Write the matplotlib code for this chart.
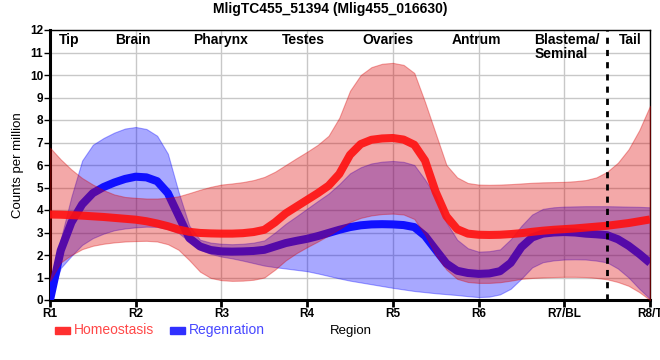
import matplotlib
matplotlib.use("Agg")
import matplotlib.pyplot as plt
from matplotlib.patches import Rectangle

plt.rcParams['font.family'] = ['Liberation Sans', 'DejaVu Sans']

# region positions, values read every eighth of a region
x_pos = [1, 1.125, 1.25, 1.375, 1.5, 1.625, 1.75, 1.875,
         2, 2.125, 2.25, 2.375, 2.5, 2.625, 2.75, 2.875,
         3, 3.125, 3.25, 3.375, 3.5, 3.625, 3.75, 3.875,
         4, 4.125, 4.25, 4.375, 4.5, 4.625, 4.75, 4.875,
         5, 5.125, 5.25, 5.375, 5.5, 5.625, 5.75, 5.875,
         6, 6.125, 6.25, 6.375, 6.5, 6.625, 6.75, 6.875,
         7, 7.125, 7.25, 7.375, 7.5, 7.625, 7.75, 7.875, 8]
tick_labels = ['R1', 'R2', 'R3', 'R4', 'R5', 'R6', 'R7/BL', 'R8/T']

homeo_mean = [3.80, 3.79, 3.77, 3.75, 3.72, 3.69, 3.65, 3.61,
              3.57, 3.50, 3.40, 3.28, 3.13, 3.03, 2.98, 2.96,
              2.95, 2.95, 2.97, 3.02, 3.12, 3.45, 3.85, 4.15,
              4.45, 4.75, 5.08, 5.60, 6.45, 6.93, 7.12, 7.18,
              7.20, 7.13, 6.90, 6.20, 4.80, 3.72, 3.15, 2.95,
              2.90, 2.89, 2.90, 2.93, 2.97, 3.03, 3.08, 3.12,
              3.15, 3.18, 3.22, 3.26, 3.30, 3.36, 3.42, 3.50, 3.58]
homeo_upper = [6.77, 6.25, 5.80, 5.42, 5.13, 4.88, 4.69, 4.58,
               4.54, 4.51, 4.51, 4.54, 4.61, 4.75, 4.90, 5.03,
               5.13, 5.18, 5.24, 5.33, 5.47, 5.70, 6.00, 6.30,
               6.59, 6.90, 7.30, 8.10, 9.30, 10.00, 10.35, 10.50,
               10.54, 10.45, 10.09, 8.80, 7.40, 6.00, 5.45, 5.20,
               5.13, 5.12, 5.13, 5.15, 5.18, 5.21, 5.23, 5.24,
               5.25, 5.28, 5.33, 5.45, 5.70, 6.10, 6.70, 7.55, 8.63]
homeo_lower = [0.85, 1.67, 2.00, 2.26, 2.41, 2.50, 2.56, 2.60,
               2.62, 2.63, 2.60, 2.48, 2.23, 1.77, 1.26, 0.98,
               0.88, 0.85, 0.86, 0.90, 1.00, 1.35, 1.76, 2.08,
               2.35, 2.60, 2.87, 3.15, 3.47, 3.65, 3.76, 3.82,
               3.84, 3.80, 3.60, 2.90, 2.00, 1.35, 0.94, 0.80,
               0.76, 0.76, 0.79, 0.86, 0.94, 0.98, 1.00, 1.02,
               1.03, 1.03, 1.02, 0.98, 0.92, 0.80, 0.63, 0.35, 0.00]

regen_mean = [0.00, 2.20, 3.45, 4.25, 4.75, 5.02, 5.22, 5.38,
              5.48, 5.45, 5.28, 4.75, 3.75, 2.75, 2.38, 2.22,
              2.16, 2.15, 2.16, 2.18, 2.23, 2.38, 2.53, 2.63,
              2.72, 2.84, 2.98, 3.12, 3.24, 3.32, 3.36, 3.37,
              3.36, 3.33, 3.24, 2.85, 2.23, 1.62, 1.30, 1.20,
              1.16, 1.18, 1.28, 1.65, 2.35, 2.78, 2.95, 3.00,
              3.02, 3.00, 2.95, 2.92, 2.88, 2.70, 2.41, 2.05, 1.65]
regen_upper = [0.00, 2.70, 4.60, 6.20, 6.90, 7.20, 7.44, 7.62,
               7.69, 7.60, 7.30, 6.50, 4.80, 3.30, 2.68, 2.55,
               2.50, 2.48, 2.50, 2.55, 2.65, 3.00, 3.39, 3.72,
               4.06, 4.40, 4.73, 5.15, 5.63, 5.90, 6.07, 6.15,
               6.18, 6.14, 6.00, 5.35, 4.61, 3.45, 2.68, 2.30,
               2.15, 2.17, 2.25, 2.70, 3.30, 3.80, 4.05, 4.12,
               4.15, 4.16, 4.17, 4.17, 4.17, 4.16, 4.15, 4.14, 4.12]
regen_lower = [0.00, 1.42, 1.96, 2.45, 2.75, 2.95, 3.10, 3.18,
               3.23, 3.26, 3.25, 3.15, 2.98, 2.60, 2.23, 2.05,
               1.93, 1.85, 1.75, 1.64, 1.53, 1.46, 1.40, 1.34,
               1.28, 1.18, 1.07, 0.96, 0.86, 0.78, 0.70, 0.62,
               0.54, 0.47, 0.40, 0.35, 0.30, 0.26, 0.22, 0.17,
               0.13, 0.15, 0.25, 0.50, 0.95, 1.45, 1.68, 1.76,
               1.80, 1.81, 1.80, 1.75, 1.67, 1.40, 1.00, 0.50, 0.05]

region_names = ['Tip', 'Brain', 'Pharynx', 'Testes', 'Ovaries', 'Antrum', 'Blastema/\nSeminal', 'Tail']
region_x = [1.22, 1.97, 2.99, 3.96, 4.94, 5.98, 6.65, 7.77]

red_fill = '#dc0000'
blue_fill = '#0000ff'

fig = plt.figure(figsize=(6.6, 3.6), dpi=100)
ax = fig.add_axes([50 / 660, 60 / 360, 600 / 660, 270 / 360])

# blue first, the red band is laid over it
ax.fill_between(x_pos, regen_lower, regen_upper, color=blue_fill, alpha=0.34,
                linewidth=0.8, edgecolor=(0, 0, 1, 0.35), zorder=2)
ax.plot(x_pos, regen_mean, color='#1010ff', lw=5.8, solid_capstyle='butt',
        solid_joinstyle='round', zorder=3)
ax.fill_between(x_pos, homeo_lower, homeo_upper, color=red_fill, alpha=0.34,
                linewidth=0.8, edgecolor=(0.85, 0, 0, 0.35), zorder=4)
ax.plot(x_pos, homeo_mean, color='#ff1010', alpha=0.9, lw=5.8, solid_capstyle='butt',
        solid_joinstyle='round', zorder=5)

ax.axvline(7.5, color='black', lw=2, ls=(0, (2.2, 2.2)), zorder=6, clip_on=False)

ax.set_xlim(1, 8)
ax.set_ylim(0, 12)
ax.set_xticks(range(1, 9))
ax.set_xticklabels(tick_labels)
ax.set_yticks(range(0, 13))
ax.grid(True, color='#c8c8c8', lw=1, zorder=0)
ax.set_axisbelow(True)

for lbl in ax.get_xticklabels() + ax.get_yticklabels():
    lbl.set_fontweight('bold')
    lbl.set_fontsize(8.5)
ax.tick_params(axis='x', length=5, width=2, pad=1)
ax.tick_params(axis='y', length=4, width=1, pad=1)

for side in ['left', 'bottom']:
    ax.spines[side].set_linewidth(2.2)
for side in ['top', 'right']:
    ax.spines[side].set_linewidth(1)

for name, rx in zip(region_names, region_x):
    ha = 'left' if '\n' in name else 'center'
    ax.text(rx, 11.85, name, ha=ha, va='top', fontsize=10, fontweight='bold',
            linespacing=1.0, zorder=7)

fig.text(330 / 660, 1 - 9 / 360, 'MligTC455_51394 (Mlig455_016630)', ha='center',
         va='center', fontsize=10, fontweight='bold')
fig.text(18 / 660, 1 - 165 / 360, 'Counts per million', rotation=90, ha='center',
         va='center', fontsize=9.5)

# legend row under the axis
fig.patches.append(Rectangle((55 / 660, 1 - 334 / 360), 15 / 660, 7 / 360,
                             transform=fig.transFigure, color='#ff3030', figure=fig))
fig.text(74 / 660, 1 - 330 / 360, 'Homeostasis', color='#ff4848', fontsize=10,
         ha='left', va='center')
fig.patches.append(Rectangle((170 / 660, 1 - 334 / 360), 15 / 660, 7 / 360,
                             transform=fig.transFigure, color='#3030ff', figure=fig))
fig.text(189 / 660, 1 - 330 / 360, 'Regenration', color='#4848ff', fontsize=10,
         ha='left', va='center')
fig.text(330 / 660, 1 - 331 / 360, 'Region', color='black', fontsize=9.5,
         ha='left', va='center')

fig.savefig('out.png', dpi=100)
